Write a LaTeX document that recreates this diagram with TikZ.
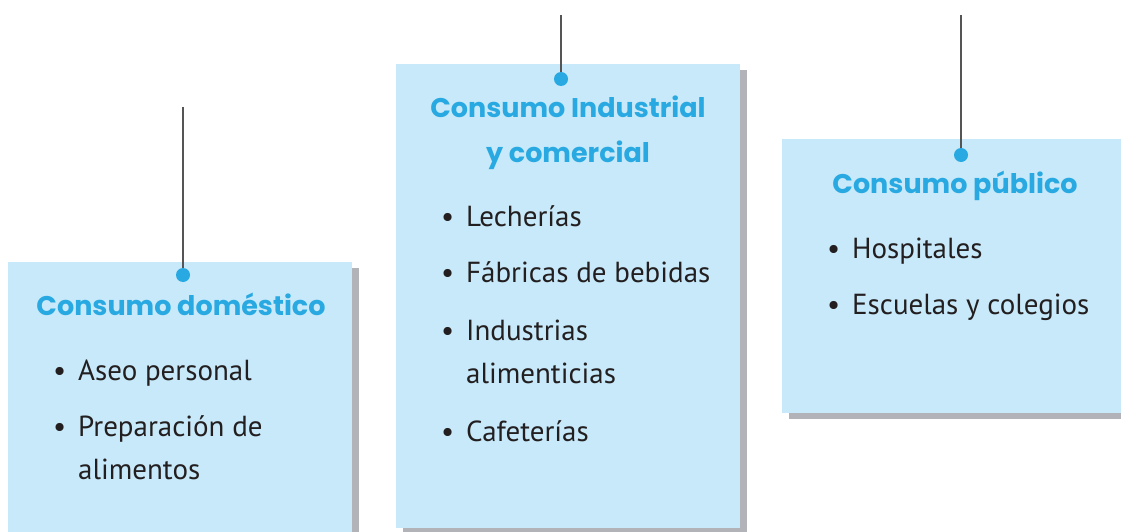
\documentclass[tikz,border=0pt]{standalone}
\usepackage{fontspec}
\setmainfont{PT Sans}
\newfontfamily\titlefont{Poppins}
\usetikzlibrary{shadows}
\definecolor{boxblue}{HTML}{C7E9F9}
\definecolor{titleblue}{HTML}{29A9E1}
\definecolor{shadowgrey}{HTML}{B1B3B9}
\definecolor{bodytext}{HTML}{231F20}
\definecolor{leadgrey}{HTML}{555555}
\tikzset{
  panel/.style={fill=boxblue, draw=none, inner sep=0pt, anchor=north west,
    drop shadow={shadow xshift=7pt, shadow yshift=-6pt, fill=shadowgrey, opacity=1}},
  pin/.style={circle, fill=titleblue, draw=none, inner sep=0pt, minimum size=14pt},
  leader/.style={draw=leadgrey, line width=1.6pt},
  heading/.style={anchor=base, align=center, text=titleblue,
    font=\titlefont\bfseries\fontsize{27}{45}\selectfont},
  item/.style={anchor=base west, align=left, text=bodytext, inner sep=0pt,
    font=\fontsize{29}{43}\selectfont},
}
\newcommand{\bul}{\llap{\textbullet\hspace{12pt}}}
\begin{document}
\begin{tikzpicture}[x=1pt,y=-1pt]
\useasboundingbox (0,0) rectangle (1121,532);
% panels
\node[panel, minimum width=344pt, minimum height=300pt] (b1) at (8,262) {};
\node[panel, minimum width=344pt, minimum height=464pt] (b2) at (396,64) {};
\node[panel, minimum width=350pt, minimum height=274pt] (b3) at (782,139) {};
% leaders
\coordinate (t1) at (183,107);
\coordinate (t2) at (561,15);
\coordinate (t3) at (961,15);
\node[pin] (d1) at (183,275) {};
\node[pin] (d2) at (561,79) {};
\node[pin] (d3) at (961,155) {};
\draw[leader] (t1) -- (d1);
\draw[leader] (t2) -- (d2);
\draw[leader] (t3) -- (d3);
% headings (base = last line)
\node[heading] (h1) at (181,315) {Consumo doméstico};
\node[heading] (h2) at (568,162) {Consumo Industrial\\y comercial};
\node[heading] (h3) at (955,193) {Consumo público};
% box 1 items
\node[item] (i11) at (78,380) {\bul Aseo personal};
\node[item] (i12) at (78,479) {\bul Preparación de\\alimentos};
% box 2 items
\node[item] (i21) at (466,226) {\bul Lecherías};
\node[item] (i22) at (466,282) {\bul Fábricas de bebidas};
\node[item] (i23) at (466,383) {\bul Industrias\\alimenticias};
\node[item] (i24) at (466,441) {\bul Cafeterías};
% box 3 items
\node[item] (i31) at (852,258) {\bul Hospitales};
\node[item] (i32) at (852,314) {\bul Escuelas y colegios};
\end{tikzpicture}
\end{document}
